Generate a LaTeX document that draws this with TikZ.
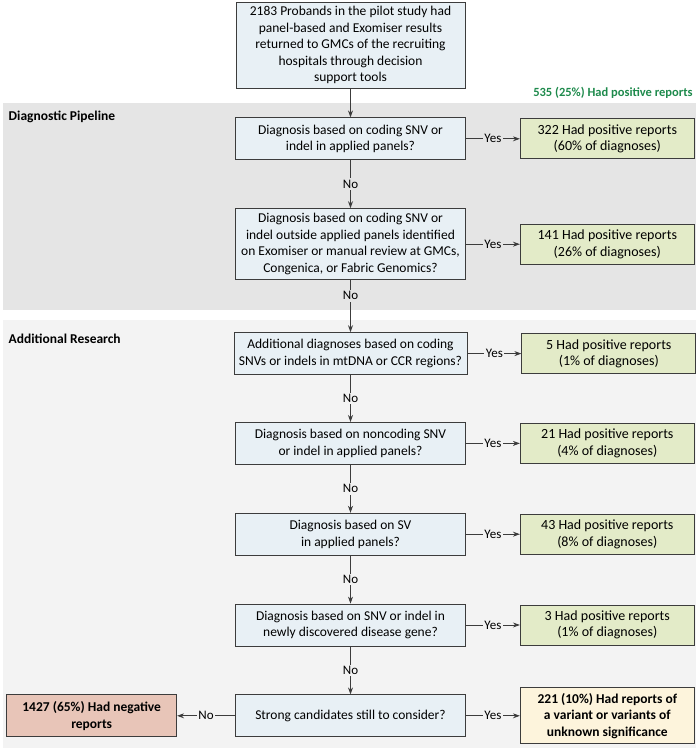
\documentclass[tikz,border=0pt]{standalone}
\usepackage{fontspec}
\setmainfont{Carlito}
\usetikzlibrary{arrows.meta,positioning}
\definecolor{pipegray}{HTML}{E5E5E5}
\definecolor{resgray}{HTML}{F3F3F3}
\definecolor{qblue}{HTML}{E8F0F5}
\definecolor{posgreen}{HTML}{E3EBC8}
\definecolor{negred}{HTML}{E8C5B8}
\definecolor{vuscream}{HTML}{FDF4DC}
\definecolor{boxline}{HTML}{3C3C3C}
\definecolor{sumgreen}{HTML}{1E8A4C}

\begin{document}
\begin{tikzpicture}[x=1pt,y=-1pt,->,>={Stealth[length=7pt,width=5pt]},line width=0.8pt,draw=boxline,
  box/.style={draw=boxline,align=center,inner sep=5pt,font=\fontsize{13.5}{16.5}\selectfont},
  q node/.style={box,fill=qblue,minimum width=230pt,minimum height=42pt},
  pos node/.style={box,fill=posgreen,minimum width=174pt,minimum height=40pt,font=\fontsize{14}{16.5}\selectfont},
  band label/.style={anchor=west,font=\fontsize{13.5}{15}\selectfont\bfseries},
  pipe lbl/.style={fill=pipegray,inner sep=1.5pt,font=\fontsize{13}{14}\selectfont},
  res lbl/.style={fill=resgray,inner sep=1.5pt,font=\fontsize{13}{14}\selectfont}]

  \useasboundingbox (0,0) rectangle (699,750);
  % background bands
  \fill[-,pipegray] (3,103) rectangle (696,310);
  \fill[-,resgray] (3,320) rectangle (696,748);
  \node[band label] (pipe) at (5,117) {Diagnostic Pipeline};
  \node[band label] (res) at (5,339) {Additional Research};

  \node[box,fill=qblue,minimum width=229pt,minimum height=86pt,inner sep=2pt] (start) at (350.5,45)
    {2183 Probands in the pilot study had\\panel-based and Exomiser results\\returned to GMCs of the recruiting\\hospitals through decision\\support tools};
  \node[anchor=south east,inner sep=0pt,text=sumgreen,font=\fontsize{12.5}{15}\selectfont\bfseries] (sum) at (693,99)
    {535 (25\%) Had positive reports};

  \node[q node] (q1) [below=29pt of start] {Diagnosis based on coding SNV or\\indel in applied panels?};
  \node[q node] (q2) [below=48pt of q1] {Diagnosis based on coding SNV or\\indel outside applied panels identified\\on Exomiser or manual review at GMCs,\\Congenica, or Fabric Genomics?};
  \node[q node] (q3) [below=52pt of q2] {Additional diagnoses based on coding\\SNVs or indels in mtDNA or CCR regions?};
  \node[q node] (q4) [below=47pt of q3] {Diagnosis based on noncoding SNV\\or indel in applied panels?};
  \node[q node] (q5) [below=48pt of q4] {Diagnosis based on SV\\in applied panels?};
  \node[q node] (q6) [below=48pt of q5] {Diagnosis based on SNV or indel in\\newly discovered disease gene?};
  \node[q node] (q7) [below=48pt of q6] {Strong candidates still to consider?};

  \node[pos node] (r1) [right=54pt of q1] {322 Had positive reports\\(60\% of diagnoses)};
  \node[pos node] (r2) [right=54pt of q2] {141 Had positive reports\\(26\% of diagnoses)};
  \node[pos node] (r3) [right=54pt of q3] {5 Had positive reports\\(1\% of diagnoses)};
  \node[pos node] (r4) [right=54pt of q4] {21 Had positive reports\\(4\% of diagnoses)};
  \node[pos node] (r5) [right=54pt of q5] {43 Had positive reports\\(8\% of diagnoses)};
  \node[pos node] (r6) [right=54pt of q6] {3 Had positive reports\\(1\% of diagnoses)};
  \node[box,fill=vuscream,minimum width=174pt,minimum height=56pt,inner sep=3pt,font=\fontsize{13.5}{16.5}\selectfont\bfseries] (vus) [right=54pt of q7]
    {221 (10\%) Had reports of\\a variant or variants of\\unknown significance};
  \node[box,fill=negred,minimum width=170pt,minimum height=42pt,font=\fontsize{13.5}{16.5}\selectfont\bfseries] (neg) [left=58pt of q7]
    {1427 (65\%) Had negative\\reports};

  \path (start) edge (q1)
  (q1) edge node[pipe lbl] {Yes} (r1)
  edge node[pipe lbl] {No} (q2)
  (q2) edge node[pipe lbl] {Yes} (r2)
  edge node[pipe lbl,pos=0.3] {No} (q3)
  (q3) edge node[res lbl] {Yes} (r3)
  edge node[res lbl] {No} (q4)
  (q4) edge node[res lbl] {Yes} (r4)
  edge node[res lbl] {No} (q5)
  (q5) edge node[res lbl] {Yes} (r5)
  edge node[res lbl] {No} (q6)
  (q6) edge node[res lbl] {Yes} (r6)
  edge node[res lbl] {No} (q7)
  (q7) edge node[res lbl] {Yes} (vus)
  edge node[res lbl] {No} (neg);
\end{tikzpicture}
\end{document}
